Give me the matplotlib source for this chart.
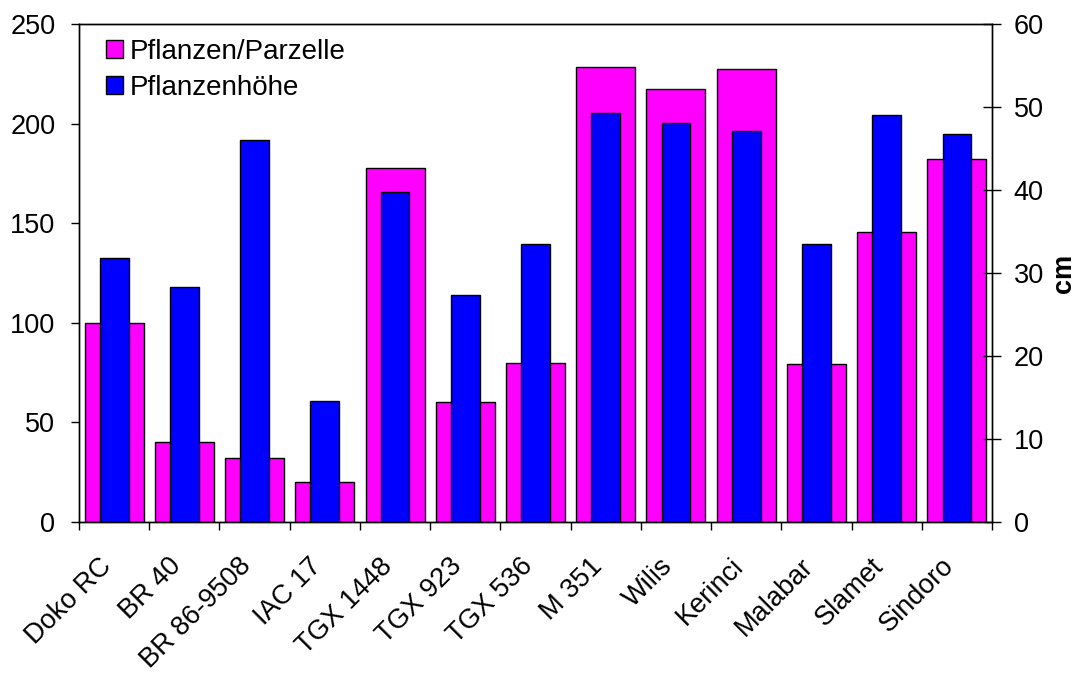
import numpy as np
import matplotlib.pyplot as plt
import matplotlib.transforms as mtransforms

plt.rcParams['font.family'] = ['Liberation Sans', 'DejaVu Sans']

# Daten
sorten = ["Doko RC", "BR 40", "BR 86-9508", "IAC 17", "TGX 1448", "TGX 923",
          "TGX 536", "M 351", "Wilis", "Kerinci", "Malabar", "Slamet", "Sindoro"]
pflanzen_parzelle = [100, 40, 32, 20, 177.5, 60, 80, 228.4, 217.6, 227.5, 79.5, 145.8, 182.3]
pflanzenhoehe = [31.8, 28.3, 46.0, 14.6, 39.8, 27.3, 33.5, 49.3, 48.1, 47.1, 33.5, 49.0, 46.8]

x = np.arange(len(sorten))

fig = plt.figure(figsize=(10.88, 6.73), dpi=100)
ax = fig.add_axes([0.0726, 0.2244, 0.8392, 0.7399])
ax2 = ax.twinx()

b1 = ax.bar(x, pflanzen_parzelle, width=0.84, color="#FF00FF",
            edgecolor="black", linewidth=1.0, label="Pflanzen/Parzelle")
b2 = ax2.bar(x, pflanzenhoehe, width=0.41, color="#0000FF",
             edgecolor="black", linewidth=1.0, label="Pflanzenhöhe")

ax.set_xlim(-0.5, len(sorten) - 0.5)
ax.set_ylim(0, 250)
ax2.set_ylim(0, 60)
ax.set_yticks(np.arange(0, 251, 50))
ax2.set_yticks(np.arange(0, 61, 10))

# Beschriftungen in der Mitte, Striche an den Grenzen
ax.set_xticks(x)
ax.set_xticklabels(sorten, rotation=45, ha="right", va="center",
                   rotation_mode="anchor", fontsize=19.5)
ax.tick_params(axis="x", length=0, pad=29)
verschiebung = mtransforms.ScaledTranslation(-5 / 72, 0, fig.dpi_scale_trans)
for lbl in ax.get_xticklabels():
    lbl.set_transform(lbl.get_transform() + verschiebung)
ax.set_xticks(np.arange(-0.5, len(sorten), 1), minor=True)
ax.tick_params(axis="x", which="minor", length=6, width=1, direction="out")

ax.tick_params(axis="y", labelsize=19.5, length=6, width=1, direction="out", pad=11)
ax2.tick_params(axis="y", labelsize=19.5, length=13, width=1, direction="inout", pad=9)
ax2.set_ylabel("cm", fontsize=19.5, fontweight="bold", labelpad=5)

for a in (ax, ax2):
    for s in a.spines.values():
        s.set_linewidth(1.0)

ax.legend(handles=[b1, b2], loc="upper left", frameon=False, fontsize=20,
          handlelength=0.61, handleheight=0.61, handletextpad=0.25,
          labelspacing=0.35, borderpad=0, borderaxespad=0,
          bbox_to_anchor=(0.0296, 0.97))

fig.savefig("out.png", dpi=100)
